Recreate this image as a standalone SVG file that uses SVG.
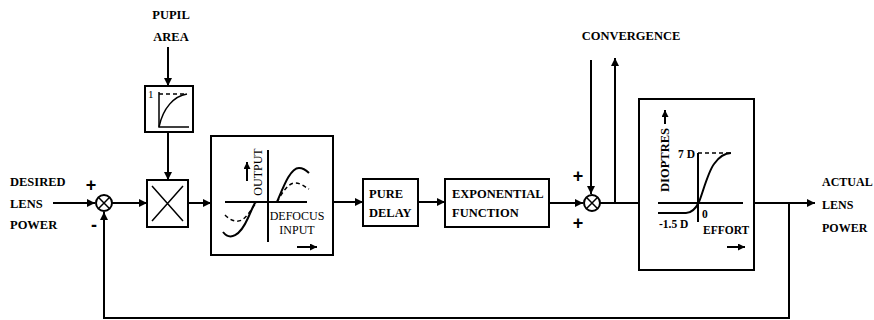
<svg xmlns="http://www.w3.org/2000/svg" width="874" height="320" viewBox="0 0 874 320">
<defs>
<marker id="ah" viewBox="0 0 10 10" refX="10" refY="5" markerWidth="8" markerHeight="8" markerUnits="userSpaceOnUse" orient="auto">
<path d="M0,0 L10,5 L0,10 z" fill="#000"/>
</marker>
<marker id="ahs" viewBox="0 0 10 10" refX="10" refY="5" markerWidth="7" markerHeight="7" markerUnits="userSpaceOnUse" orient="auto">
<path d="M0,0 L10,5 L0,10 z" fill="#000"/>
</marker>
</defs>
<style>
.ln{fill:none;stroke:#000;stroke-width:2}
.th{fill:none;stroke:#000;stroke-width:1.5}
.ds{fill:none;stroke:#000;stroke-width:1.5;stroke-dasharray:4 3}
.bx{fill:#fff;stroke:#000;stroke-width:2}
.t{font-family:"Liberation Serif","Times New Roman",serif;font-weight:bold;font-size:12.5px;fill:#000}
.r{font-family:"Liberation Serif","Times New Roman",serif;font-size:12px;fill:#000}
.s{font-family:"Liberation Serif","Times New Roman",serif;font-weight:bold;font-size:11.5px;fill:#000}
.sg{font-family:"Liberation Sans",Arial,sans-serif;font-weight:bold;font-size:18px;fill:#000}
</style>
<rect width="874" height="320" fill="#fff"/>

<g id="connectors">
<path class="ln" d="M53,203 H95" marker-end="url(#ah)"/>
<path class="ln" d="M112,203 H147" marker-end="url(#ah)"/>
<path class="ln" d="M188,203 H211" marker-end="url(#ah)"/>
<path class="ln" d="M333,202 H363" marker-end="url(#ah)"/>
<path class="ln" d="M418,202 H445" marker-end="url(#ah)"/>
<path class="ln" d="M549,203 H583" marker-end="url(#ah)"/>
<path class="ln" d="M600,203 H639"/>
<path class="ln" d="M591,60 V194" marker-end="url(#ah)"/>
<path class="ln" d="M615,203 V58" marker-end="url(#ah)"/>
<path class="ln" d="M754,203 H815" marker-end="url(#ah)"/>
<path class="ln" d="M789,203 V318 H104 V212" marker-end="url(#ah)"/>
<path class="ln" d="M168,47 V86" marker-end="url(#ah)"/>
<path class="ln" d="M168,132 V180" marker-end="url(#ah)"/>
</g>

<g id="desired">
<text class="t" x="10" y="186">DESIRED</text>
<text class="t" x="10" y="208">LENS</text>
<text class="t" x="10" y="229">POWER</text>
</g>

<g id="sum1">
<circle class="ln" cx="104" cy="203" r="8" fill="#fff"/>
<path class="th" d="M98.3,197.3 L109.7,208.7 M109.7,197.3 L98.3,208.7"/>
<text class="sg" x="91" y="191" text-anchor="middle">+</text>
<text class="sg" x="94" y="231" text-anchor="middle">-</text>
</g>

<g id="pupil">
<text class="t" x="171" y="19" text-anchor="middle">PUPIL</text>
<text class="t" x="171" y="41" text-anchor="middle">AREA</text>
</g>

<g id="pupil-box">
<rect class="bx" x="145" y="86" width="48" height="46"/>
<path class="th" d="M159,92 V127 H189"/>
<path class="ds" d="M159,94 H187"/>
<path class="th" d="M159,127 C163,108 174,96 187,94"/>
<text class="r" x="148" y="98" style="font-size:11px">1</text>
</g>

<g id="multiplier">
<rect class="bx" x="147" y="180" width="41" height="47"/>
<path class="th" d="M152,186 L183,221 M183,186 L152,221"/>
</g>

<g id="defocus">
<rect class="bx" x="211" y="136" width="122" height="119"/>
<path class="ln" d="M268,150 V242"/>
<path class="ln" d="M225,202 H307"/>
<text class="r" transform="translate(262,172) rotate(-90)" text-anchor="middle">OUTPUT</text>
<path class="ln" d="M247,181 V162" marker-end="url(#ahs)"/>
<path class="ln" d="M223,232 C230,241 240,236 248,218 S254,204 256,202"/>
<path class="ln" d="M277,202 C283,188 290,168 299,168 C304,168 307,171 309,173"/>
<path class="ds" d="M225,215 C230,220 236,223 242,220 C248,216 252,208 256,203"/>
<path class="ds" d="M277,202 C282,193 288,183 295,183 C301,183 305,187 309,189"/>
<text class="r" x="297" y="220" text-anchor="middle">DEFOCUS</text>
<text class="r" x="297" y="234" text-anchor="middle">INPUT</text>
<path class="ln" d="M297,247 H317" marker-end="url(#ahs)"/>
</g>

<g id="delay">
<rect class="bx" x="363" y="179" width="55" height="47"/>
<text class="t" x="369" y="198">PURE</text>
<text class="t" x="369" y="217">DELAY</text>
</g>

<g id="exponential">
<rect class="bx" x="445" y="179" width="104" height="48"/>
<text class="t" x="452" y="198">EXPONENTIAL</text>
<text class="t" x="452" y="217">FUNCTION</text>
</g>

<g id="convergence">
<text class="t" x="631" y="40" text-anchor="middle">CONVERGENCE</text>
</g>

<g id="sum2">
<circle class="ln" cx="592" cy="203" r="8" fill="#fff"/>
<path class="th" d="M586.3,197.3 L597.7,208.7 M597.7,197.3 L586.3,208.7"/>
<text class="sg" x="578" y="182" text-anchor="middle">+</text>
<text class="sg" x="578" y="229" text-anchor="middle">+</text>
</g>

<g id="plant">
<rect class="bx" x="639" y="99" width="115" height="171"/>
<text class="t" transform="translate(669,160) rotate(-90)" text-anchor="middle">DIOPTRES</text>
<path class="ln" d="M665,124 V110" marker-end="url(#ahs)"/>
<path class="ln" d="M698,153 V222"/>
<path class="ln" d="M658,203 H743"/>
<path class="ds" d="M698,153 H731"/>
<path class="ln" d="M658,213 H686 C692,213 696,208 699,202 C703,192 708,172 714,164 C719,157 725,153 731,153"/>
<text class="s" x="695" y="158" text-anchor="end">7 D</text>
<text class="s" x="659" y="228">-1.5 D</text>
<text class="s" x="702" y="218">0</text>
<text class="s" x="703" y="234">EFFORT</text>
<path class="ln" d="M727,247 H745" marker-end="url(#ahs)"/>
</g>

<g id="actual">
<text class="t" x="822" y="186" style="font-size:12px">ACTUAL</text>
<text class="t" x="822" y="209" style="font-size:12px">LENS</text>
<text class="t" x="822" y="232" style="font-size:12px">POWER</text>
</g>
</svg>
